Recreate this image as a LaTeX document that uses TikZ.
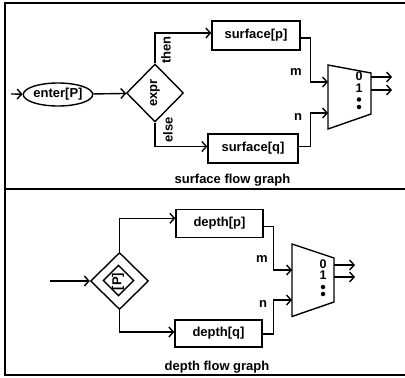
\documentclass[tikz,border=0pt]{standalone}
\usepackage{fontspec}
\setmainfont{Liberation Sans}
\usetikzlibrary{shapes.geometric,arrows.meta,calc}
\begin{document}
\begin{tikzpicture}[x=1pt,y=-1pt,
  every node/.style={font=\fontsize{13}{15}\selectfont\bfseries},
  ln/.style={line width=1.4pt},
  arr/.style={ln,-{Straight Barb[length=4.5pt,width=10pt,line width=1.4pt]}},
  box/.style={draw,ln,rectangle,inner sep=0pt},
  dia/.style={draw,ln,diamond,inner sep=0pt},
  lab/.style={inner sep=0pt},
  digs/.style={inner sep=0pt,align=center,font=\fontsize{12.5}{11.5}\selectfont\bfseries},
  dotn/.style={circle,fill,inner sep=0pt,minimum size=4.5pt}]
\useasboundingbox (0,0) rectangle (405,378);
\draw[line width=2pt] (406,3) -- (5,3) -- (5,375) -- (406,375);
\draw[line width=2pt] (5,189) -- (406,189);
% ---------- top panel ----------
\coordinate (in1) at (11,94);
\node[draw,ln,ellipse,minimum width=66pt,minimum height=23pt,inner sep=0pt] (enter) at (58,94.5) {enter[P]};
\node[dia,minimum width=57pt,minimum height=58pt] (expr) at (155,93) {};
\node[lab,rotate=90] (exprt) at (expr.center) {expr};
\node[box,minimum width=88pt,minimum height=29pt] (sp) at (256,35.5) {surface[p]};
\node[box,minimum width=90pt,minimum height=29pt] (sq) at (253,148.5) {surface[q]};
\draw[ln] (328,65) -- (371,73) -- (371,114) -- (328,129) -- cycle;
\coordinate (m1) at (328,82);
\coordinate (n1) at (328,113);
\coordinate (o1a) at (371,77);
\coordinate (o1b) at (371,90);
\coordinate (e1a) at (392,77);
\coordinate (e1b) at (392,90);
\node[digs] (z1) at (359,82) {0\\1};
\node[dotn] (d1a) at (359,99.5) {};
\node[dotn] (d1b) at (359,107) {};
\draw[arr] (in1) -- (enter);
\draw[arr] (enter) -- (expr);
\draw[arr] (expr.north) |- ([yshift=2.5pt]sp.west);
\draw[arr] (expr.south) |- ([yshift=2pt]sq.west);
\draw[arr] ([yshift=-2.5pt]sp.east) -- ++(10,0) |- (m1);
\draw[arr] ([yshift=2pt]sq.east) -- ++(12,0) |- (n1);
\draw[arr] (o1a) -- (e1a);
\draw[arr] (o1b) -- (e1b);
\node[lab,rotate=90] (then) at (166,50) {then};
\node[lab,rotate=90] (else) at (168,130) {else};
\node[lab] (mlab1) at (296,72) {m};
\node[lab] (nlab1) at (298,117) {n};
\node[lab] (cap1) at (232.5,180) {surface flow graph};
% ---------- bottom panel ----------
\coordinate (in2) at (50,281);
\node[dia,minimum width=58pt,minimum height=57pt] (outer) at (119.5,281) {};
\node[dia,minimum width=31pt,minimum height=31pt] (inner) at (118.5,280.5) {};
\node[lab,rotate=90] (pt) at (118,281.5) {[P]};
\node[box,minimum width=87pt,minimum height=28pt] (dp) at (219.5,223.3) {depth[p]};
\node[box,minimum width=87pt,minimum height=27pt] (dq) at (218.5,333.5) {depth[q]};
\draw[ln] (292,244) -- (334,258) -- (334,302) -- (292,316.5) -- cycle;
\coordinate (m2) at (292,270);
\coordinate (n2) at (292,300);
\coordinate (o2a) at (334,265);
\coordinate (o2b) at (334,277);
\coordinate (e2a) at (355,265);
\coordinate (e2b) at (355,277);
\node[digs] (z2) at (323,269.5) {0\\1};
\node[dotn] (d2a) at (323,287) {};
\node[dotn] (d2b) at (323,294) {};
\draw[arr] (in2) -- (outer);
\draw[arr] ([xshift=-0.3pt]outer.north) |- ([yshift=5pt]dp.west);
\draw[arr] ([xshift=-0.3pt]outer.south) |- ([yshift=1.5pt]dq.west);
\draw[arr] ([yshift=-3pt]dp.east) -- ++(10,0) |- (m2);
\draw[arr] ([yshift=-0.5pt]dq.east) -- ++(11,0) |- (n2);
\draw[arr] (o2a) -- (e2a);
\draw[arr] (o2b) -- (e2b);
\node[lab] (mlab2) at (262,259) {m};
\node[lab] (nlab2) at (263,304) {n};
\node[lab] (cap2) at (217,367) {depth flow graph};
\end{tikzpicture}
\end{document}
